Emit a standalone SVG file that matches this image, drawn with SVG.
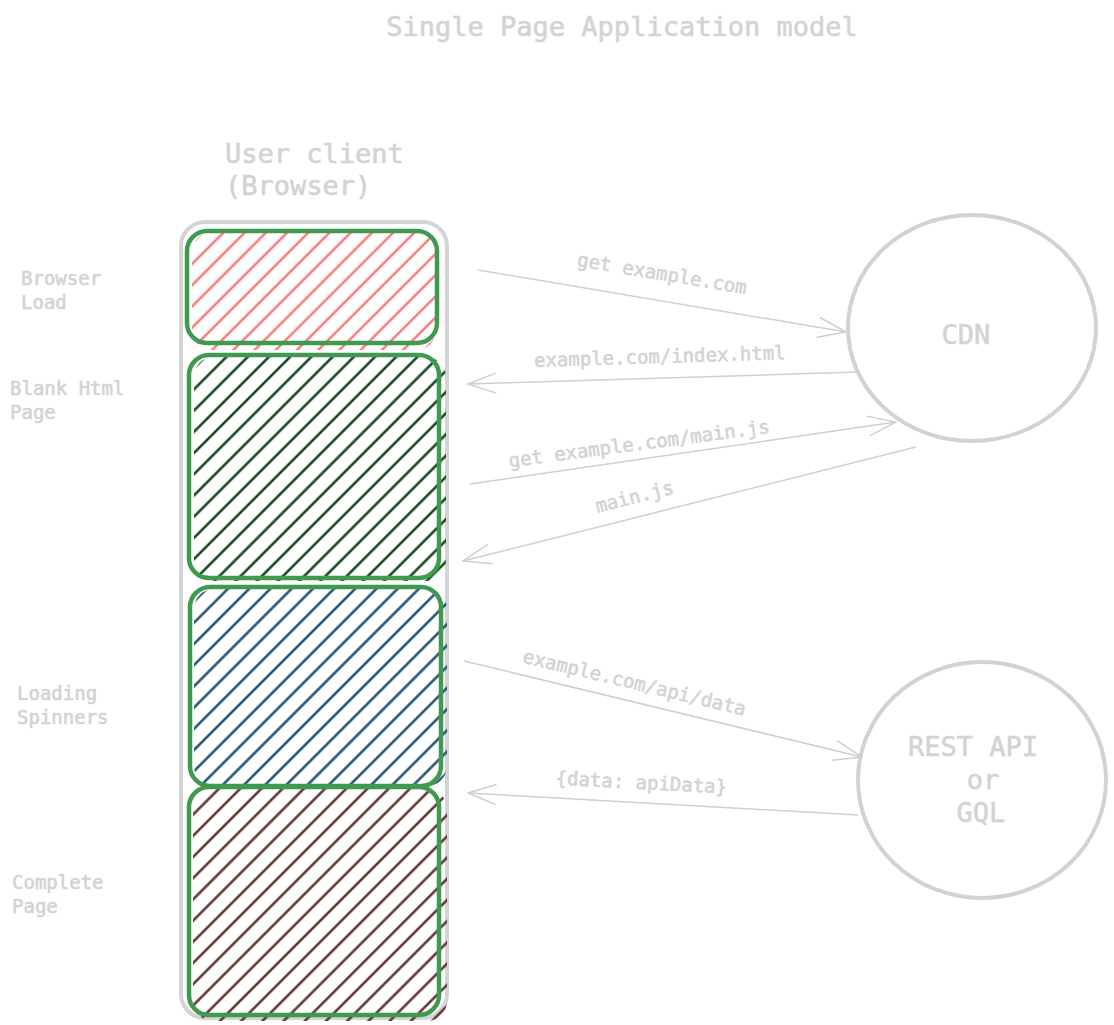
<svg xmlns="http://www.w3.org/2000/svg" width="1114" height="1025" viewBox="0 0 1114 1025">
<style>
text{font-family:"DejaVu Sans Mono","Liberation Mono",monospace;fill:#d3d3d3;stroke:#d3d3d3;stroke-width:0.6}
.big{font-size:27px}
.sm{font-size:19px}
.lbl{font-size:19px;text-anchor:middle}
.edge{fill:none;stroke:#cfcfcf;stroke-width:1.5}
.box{fill:none;stroke:#3f9a4f;stroke-width:4.5}
.circ{fill:none;stroke:#d2d2d2;stroke-width:4}
</style>
<defs>
<pattern id="hRed" patternUnits="userSpaceOnUse" width="15" height="15" patternTransform="rotate(45)"><line x1="7.5" y1="0" x2="7.5" y2="15" stroke="#f96a6a" stroke-width="2.2"/></pattern>
<pattern id="hGreen" patternUnits="userSpaceOnUse" width="15" height="15" patternTransform="rotate(45)"><line x1="7.5" y1="0" x2="7.5" y2="15" stroke="#073a0e" stroke-width="2.4"/></pattern>
<pattern id="hBlue" patternUnits="userSpaceOnUse" width="15" height="15" patternTransform="rotate(45)"><line x1="7.5" y1="0" x2="7.5" y2="15" stroke="#18476a" stroke-width="2.4"/></pattern>
<pattern id="hBrown" patternUnits="userSpaceOnUse" width="15" height="15" patternTransform="rotate(45)"><line x1="7.5" y1="0" x2="7.5" y2="15" stroke="#572724" stroke-width="2.4"/></pattern>
<marker id="arr" viewBox="0 0 30 22" refX="29" refY="11" markerWidth="30" markerHeight="22" markerUnits="userSpaceOnUse" orient="auto"><path d="M1,1 L29,11 L1,21" fill="none" stroke="#cfcfcf" stroke-width="1.5"/></marker>
</defs>

<text class="big" x="622" y="36" text-anchor="middle">Single Page Application model</text>

<g id="client">
<text class="big" x="225" y="163">User client</text>
<text class="big" x="225" y="195">(Browser)</text>
<rect x="181" y="222" width="266" height="796" rx="24" fill="none" stroke="#d4d4d4" stroke-width="4"/>
</g>

<g id="browser-load">
<rect x="192" y="232" width="244" height="118" rx="20" fill="url(#hRed)"/>
<rect class="box" x="187" y="231" width="250" height="112" rx="20"/>
<text class="sm" x="21" y="285">Browser</text>
<text class="sm" x="21" y="309">Load</text>
</g>

<g id="blank-html">
<rect x="194" y="357" width="252" height="224" rx="20" fill="url(#hGreen)"/>
<rect class="box" x="189" y="355" width="250" height="223" rx="20"/>
<text class="sm" x="10" y="395">Blank Html</text>
<text class="sm" x="10" y="419">Page</text>
</g>

<g id="loading-spinners">
<rect x="194" y="589" width="253" height="197" rx="20" fill="url(#hBlue)"/>
<rect class="box" x="190" y="587" width="251" height="199" rx="20"/>
<text class="sm" x="17" y="700">Loading</text>
<text class="sm" x="17" y="724">Spinners</text>
</g>

<g id="complete-page">
<rect x="193" y="789" width="254" height="232" rx="20" fill="url(#hBrown)"/>
<rect class="box" x="189" y="787" width="250" height="228" rx="20"/>
<text class="sm" x="12" y="889">Complete</text>
<text class="sm" x="12" y="913">Page</text>
</g>

<g id="cdn">
<ellipse class="circ" cx="972" cy="328" rx="124" ry="113"/>
<text class="big" x="966" y="344" text-anchor="middle">CDN</text>
</g>

<g id="rest-api">
<ellipse class="circ" cx="982" cy="780" rx="124" ry="118"/>
<text class="big" x="973" y="756" text-anchor="middle">REST API</text>
<text class="big" x="983" y="789" text-anchor="middle">or</text>
<text class="big" x="981" y="822" text-anchor="middle">GQL</text>
</g>

<g id="connectors">
<line class="edge" x1="478" y1="270" x2="846" y2="332" marker-end="url(#arr)"/>
<text class="lbl" transform="translate(661,280) rotate(9.5)">get example.com</text>
<line class="edge" x1="858" y1="372" x2="468" y2="384" marker-end="url(#arr)"/>
<text class="lbl" transform="translate(660,363) rotate(-1.8)">example.com/index.html</text>
<line class="edge" x1="470" y1="484" x2="896" y2="422" marker-end="url(#arr)"/>
<text class="lbl" transform="translate(640,450) rotate(-7.5)">get example.com/main.js</text>
<line class="edge" x1="916" y1="447" x2="463" y2="561" marker-end="url(#arr)"/>
<text class="lbl" transform="translate(636,503) rotate(-14)">main.js</text>
<line class="edge" x1="464" y1="661" x2="862" y2="757" marker-end="url(#arr)"/>
<text class="lbl" transform="translate(633,689) rotate(13.5)">example.com/api/data</text>
<line class="edge" x1="858" y1="815" x2="468" y2="793" marker-end="url(#arr)"/>
<text class="lbl" transform="translate(641,789) rotate(3)">{data: apiData}</text>
</g>
</svg>
